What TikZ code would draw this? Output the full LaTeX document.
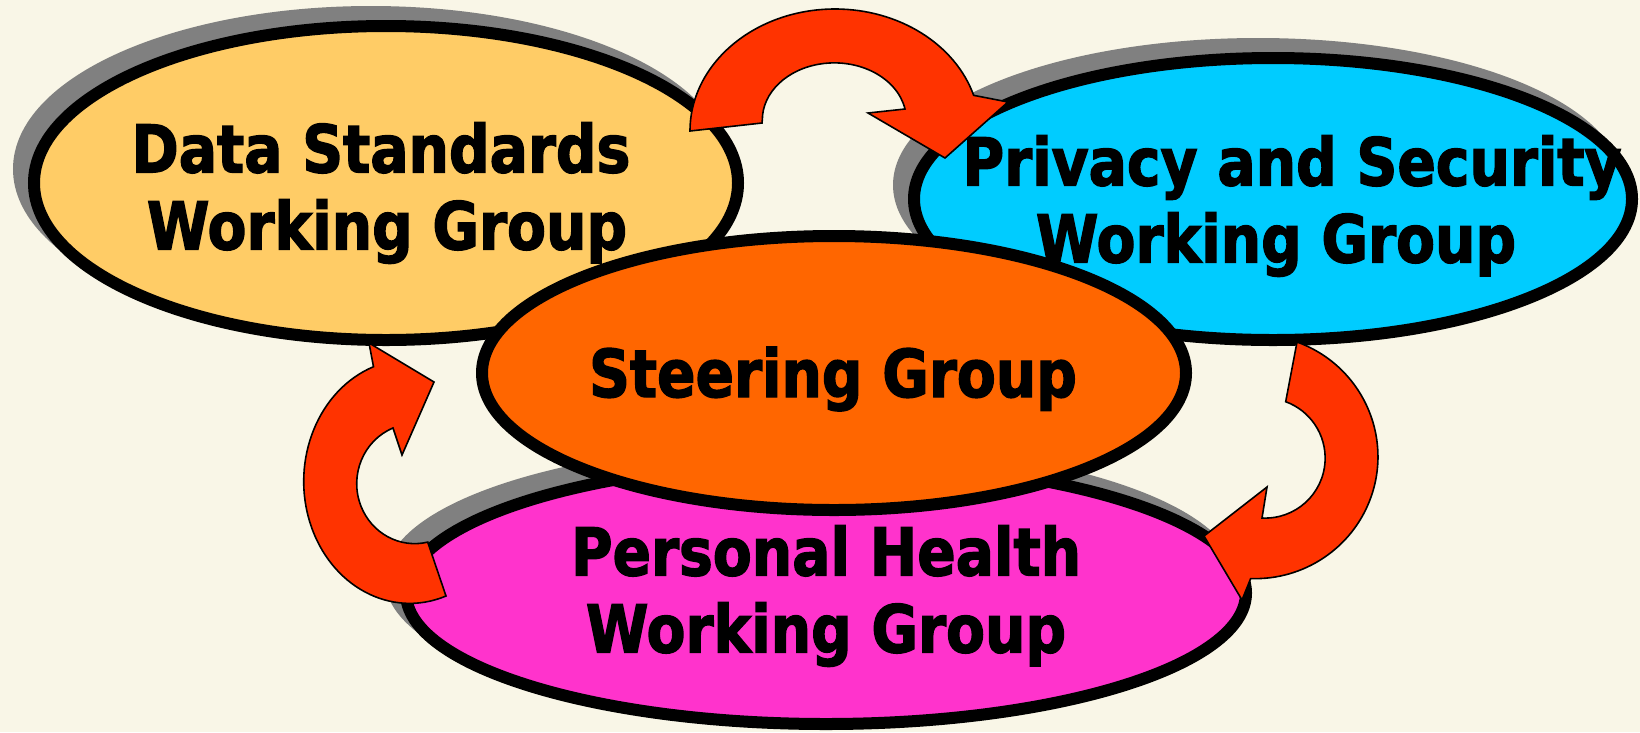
\documentclass[tikz,border=0pt]{standalone}
\usepackage{fontspec}
\newfontfamily\lblfont{DejaVu Sans}[FakeStretch=0.86, FakeBold=2]
\usetikzlibrary{shapes.geometric}
\definecolor{bgcream}{RGB}{249,246,231}
\definecolor{dsfill}{RGB}{255,204,102}
\definecolor{psfill}{RGB}{0,204,255}
\definecolor{sgfill}{RGB}{255,102,0}
\definecolor{phfill}{RGB}{255,51,204}
\definecolor{arrowred}{RGB}{255,51,0}
\definecolor{shadowgray}{RGB}{128,128,128}
\tikzset{
  grp/.style={ellipse, draw=black, line width=12pt, inner sep=0pt, outer sep=0pt},
  shd/.style={ellipse, draw=shadowgray, fill=shadowgray, line width=12pt, inner sep=0pt, outer sep=0pt},
  lbl/.style={font=\lblfont\bfseries\fontsize{66}{77}\selectfont, align=center, inner sep=0pt, text=black},
  blockarrow/.style={fill=arrowred, draw=black, line width=1.6pt, line join=miter}
}
\begin{document}
\begin{tikzpicture}[x=1pt,y=-1pt]
\fill[bgcream] (0,0) rectangle (1640,732);
\useasboundingbox (0,0) rectangle (1640,732);

% Data Standards
\node[shd, minimum width=704pt, minimum height=314pt] (dsshadow) at (371,169) {};
\node[grp, fill=dsfill, minimum width=704pt, minimum height=314pt] (ds) at (386,183) {};
\node[lbl] (dstext) at (384,193) {Data Standards\hspace*{6pt}\\\hspace*{6pt}Working Group};

% Privacy and Security
\node[shd, minimum width=718pt, minimum height=282pt] (psshadow) at (1258,185) {};
\node[grp, fill=psfill, minimum width=718pt, minimum height=282pt] (ps) at (1273,199) {};
\node[lbl] (pstext) at (1284,206) {\hspace*{16pt}Privacy and Security\\Working Group\hspace*{16pt}};

% Personal Health
\node[shd, minimum width=840pt, minimum height=262pt] (phshadow) at (811,579) {};
\node[grp, fill=phfill, minimum width=840pt, minimum height=262pt] (ph) at (826,593) {};
\node[lbl] (phtext) at (826,596) {Personal Health\\Working Group};

% Steering Group
\node[grp, fill=sgfill, minimum width=704pt, minimum height=274pt] (sg) at (834,373) {};
\node[lbl, anchor=base] (sgtext) at (833,397) {Steering Group};

% Curved block arrows
\filldraw[blockarrow] (762,123) -- (690,131)
  arc[start angle=180, end angle=343, x radius=145, y radius=122]
  -- (1008,102) -- (945,158) -- (868,113) -- (905,109)
  arc[start angle=349, end angle=180, x radius=72, y radius=57]
  -- cycle;

\filldraw[blockarrow] (428,543) -- (446,596)
  arc[start angle=70, end angle=250, x radius=106, y radius=122]
  -- (369,343) -- (434,382) -- (402,455) -- (393,428)
  arc[start angle=248, end angle=77, x radius=58, y radius=60]
  -- cycle;

\filldraw[blockarrow] (1286,400) -- (1297,342)
  arc[start angle=290, end angle=452, x radius=123, y radius=122]
  -- (1242,600) -- (1204,536) -- (1267,487) -- (1262,518)
  arc[start angle=93, end angle=-70, x radius=60, y radius=60]
  -- cycle;
\end{tikzpicture}
\end{document}
